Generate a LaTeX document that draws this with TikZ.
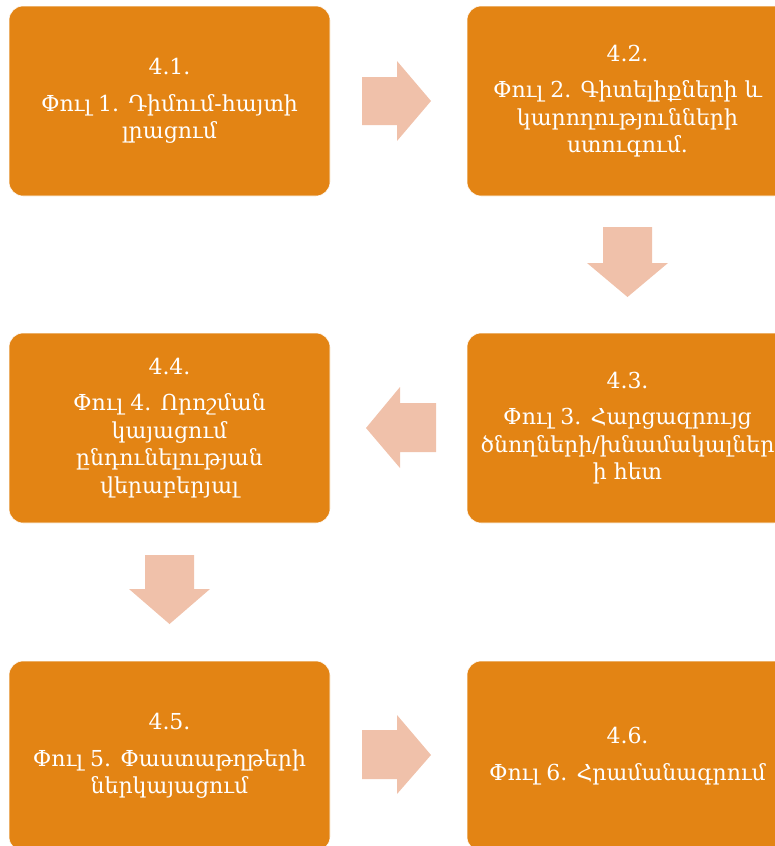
\documentclass[tikz,border=0pt]{standalone}
\usepackage{fontspec}
\newfontfamily\armfont{DejaVu Serif}
\definecolor{boxorange}{HTML}{E38414}
\definecolor{peach}{HTML}{F0C1AA}
\tikzset{
  stagebox/.style={fill=boxorange, draw=white, line width=0.6pt, rounded corners=14pt,
    minimum width=321pt, minimum height=190pt, text=white, align=center,
    font=\armfont\fontsize{22}{27.5}\selectfont, inner sep=0pt},
  blockarrow/.style={fill=peach, draw=none}
}
\begin{document}
\begin{tikzpicture}[x=1pt,y=-1pt]
\useasboundingbox (0,0) rectangle (775,846);
\clip (0,0) rectangle (775,846);
\node[stagebox] (b1) at (169.5,101) {4.1.\\[9pt]Փուլ 1. Դիմում-հայտի\\լրացում};
\node[stagebox] (b2) at (627.5,101) {4.2.\\[9pt]Փուլ 2. Գիտելիքների և\\կարողությունների\\ստուգում.};
\node[stagebox] (b3) at (627.5,428) {4.3.\\[9pt]Փուլ 3. Հարցազրույց\\ծնողների/խնամակալներ\\ի հետ};
\node[stagebox] (b4) at (169.5,428) {4.4.\\[9pt]Փուլ 4. Որոշման\\կայացում\\ընդունելության\\վերաբերյալ};
\node[stagebox] (b5) at (169.5,756) {4.5.\\[9pt]Փուլ 5. Փաստաթղթերի\\ներկայացում};
\node[stagebox] (b6) at (627.5,756) {4.6.\\[9pt]Փուլ 6. Հրամանագրում};
% block arrows
\fill[blockarrow] (362,77) -- (397,77) -- (397,61) -- (431,101) -- (397,141) -- (397,125) -- (362,125) -- cycle;
\fill[blockarrow] (603,227) -- (652,227) -- (652,263) -- (668,263) -- (627.5,297) -- (587,263) -- (603,263) -- cycle;
\fill[blockarrow] (436,403) -- (400,403) -- (400,387) -- (366,428) -- (400,468) -- (400,452) -- (436,452) -- cycle;
\fill[blockarrow] (145,555) -- (194,555) -- (194,589) -- (210,589) -- (169.5,624) -- (129,589) -- (145,589) -- cycle;
\fill[blockarrow] (362,730) -- (397,730) -- (397,715) -- (431,755) -- (397,794) -- (397,779) -- (362,779) -- cycle;
\end{tikzpicture}
\end{document}
